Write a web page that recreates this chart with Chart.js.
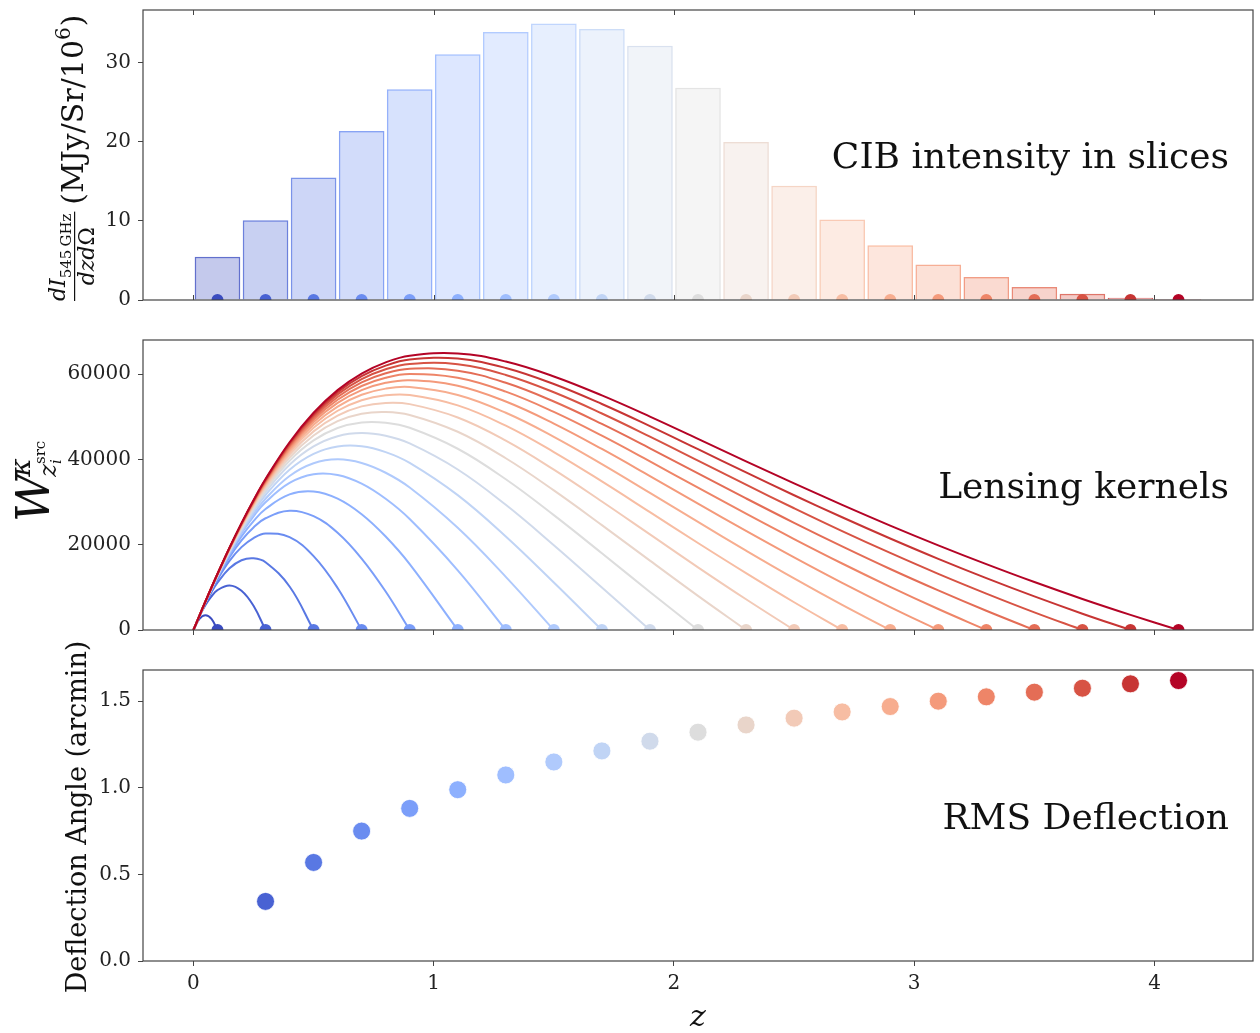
<!doctype html>
<html lang="en">
<head>
<meta charset="utf-8">
<title>CIB slices, lensing kernels and deflection</title>
<script src="https://cdn.jsdelivr.net/npm/chart.js"></script>
<style>
  body { margin: 0; background: #fff; }
  .panel { position: absolute; left: 0; width: 1260px; }
</style>
</head>
<body>
<div class="panel" style="top:0"><canvas id="cibChart" width="1260" height="330"></canvas></div>
<div class="panel" style="top:330px"><canvas id="kernelChart" width="1260" height="330"></canvas></div>
<div class="panel" style="top:620px"><canvas id="deflChart" width="1260" height="413"></canvas></div>

<script>
// redshift slices (centres) and the CIB intensity in each slice
var sliceZ = [0.1, 0.3, 0.5, 0.7, 0.9, 1.1, 1.3, 1.5, 1.7, 1.9, 2.1, 2.3, 2.5, 2.7, 2.9, 3.1, 3.3, 3.5, 3.7, 3.9, 4.1];
var cibIntensity = [5.46, 10.09, 15.51, 21.39, 26.68, 31.1, 33.92, 35.0, 34.3, 32.16, 26.86, 20.0, 14.45, 10.2, 6.93, 4.49, 2.9, 1.64, 0.79, 0.29, 0.13];

// lensing kernel for each source slice, sampled on kernelZ (ends at the source z)
var kernelZ = [0, 0.025, 0.05, 0.075, 0.1, 0.15, 0.2, 0.25, 0.3, 0.4, 0.5, 0.6, 0.7, 0.8, 0.9, 1.1, 1.3, 1.5, 1.7, 1.9, 2.1, 2.3, 2.5, 2.7, 2.9, 3.1, 3.3, 3.5, 3.7, 3.9, 4.1];
var kernels = [
  [0, 2600, 3480, 2600, 0],
  [0, 3220, 5860, 7900, 9350, 10450, 9200, 5680, 0],
  [0, 3310, 6260, 8860, 11090, 14460, 16360, 16820, 15890, 10200, 0],
  [0, 3350, 6460, 9300, 11870, 16200, 19430, 21560, 22630, 21760, 17310, 9860, 0],
  [0, 3360, 6530, 9490, 12240, 17070, 21010, 24050, 26200, 27970, 26690, 22790, 16750, 9020, 0],
  [0, 3370, 6570, 9600, 12440, 17590, 21960, 25550, 28370, 31790, 32470, 30790, 27140, 21910, 15440, 0],
  [0, 3380, 6610, 9700, 12620, 17990, 22680, 26660, 29950, 34500, 36530, 36350, 34320, 30770, 26020, 14000, 0],
  [0, 3350, 6580, 9680, 12630, 18110, 22970, 27200, 30790, 36110, 39100, 40010, 39170, 36870, 33410, 23970, 12470, 0],
  [0, 3360, 6600, 9730, 12730, 18330, 23370, 27810, 31660, 37590, 41310, 43040, 43100, 41720, 39190, 31620, 21920, 11130, 0],
  [0, 3360, 6620, 9780, 12810, 18510, 23680, 28280, 32330, 38750, 43050, 45450, 46180, 45530, 43750, 37640, 29360, 19890, 9970, 0],
  [0, 3370, 6640, 9810, 12870, 18650, 23920, 28670, 32880, 39690, 44460, 47360, 48670, 48600, 47410, 42500, 35340, 26930, 17990, 8930, 0],
  [0, 3370, 6650, 9840, 12920, 18770, 24130, 28990, 33330, 40460, 45610, 48960, 50720, 51130, 50430, 46480, 40270, 32740, 24600, 16260, 8000, 0],
  [0, 3370, 6660, 9870, 12970, 18860, 24300, 29250, 33710, 41110, 46580, 50280, 52430, 53250, 52960, 49830, 44400, 37600, 30130, 22420, 14700, 7210, 0],
  [0, 3380, 6670, 9890, 13010, 18950, 24450, 29480, 34030, 41660, 47410, 51410, 53890, 55050, 55100, 52670, 47910, 41730, 34850, 27640, 20400, 13340, 6510, 0],
  [0, 3380, 6680, 9910, 13040, 19020, 24570, 29670, 34300, 42140, 48120, 52390, 55150, 56600, 56960, 55120, 50940, 45310, 38900, 32150, 25330, 18620, 12110, 5900, 0],
  [0, 3380, 6690, 9920, 13070, 19080, 24680, 29840, 34550, 42550, 48740, 53240, 56240, 57960, 58580, 57270, 53580, 48410, 42450, 36090, 29610, 23230, 17020, 11050, 5380, 0],
  [0, 3380, 6690, 9930, 13090, 19130, 24780, 29990, 34760, 42910, 49280, 53980, 57210, 59140, 60000, 59150, 55890, 51140, 45560, 39530, 33380, 27260, 21320, 15590, 10120, 4920, 0],
  [0, 3380, 6700, 9950, 13110, 19180, 24870, 30120, 34940, 43240, 49760, 54650, 58060, 60210, 61270, 60810, 57960, 53570, 48310, 42600, 36730, 30860, 25130, 19610, 14310, 9290, 4510, 0],
  [0, 3380, 6700, 9960, 13130, 19230, 24940, 30240, 35110, 43520, 50200, 55240, 58830, 61140, 62390, 62310, 59800, 55740, 50770, 45340, 39710, 34070, 28550, 23190, 18070, 13170, 8540, 4140, 0],
  [0, 3380, 6710, 9970, 13150, 19270, 25010, 30350, 35270, 43790, 50580, 55770, 59520, 61990, 63400, 63640, 61450, 57680, 53000, 47810, 42400, 36960, 31600, 26430, 21450, 16680, 12160, 7870, 3820, 0],
  [0, 3390, 6710, 9980, 13160, 19300, 25070, 30440, 35400, 44020, 50930, 56250, 60130, 62760, 64310, 64860, 62940, 59450, 55000, 50040, 44820, 39560, 34380, 29340, 24480, 19850, 15440, 11240, 7280, 3550, 0]
];

// rms deflection for sources at z >= 0.3
var deflZ = [0.3, 0.5, 0.7, 0.9, 1.1, 1.3, 1.5, 1.7, 1.9, 2.1, 2.3, 2.5, 2.7, 2.9, 3.1, 3.3, 3.5, 3.7, 3.9, 4.1];
var rmsDeflection = [0.344, 0.569, 0.750, 0.881, 0.989, 1.074, 1.149, 1.213, 1.269, 1.321, 1.363, 1.402, 1.438, 1.469, 1.500, 1.525, 1.552, 1.575, 1.600, 1.619];

// tick labels
var zTicks = [0, 1, 2, 3, 4];
var cibTicks = [0, 10, 20, 30];
var kernelTicks = [0, 20000, 40000, 60000];
var deflTicks = [0, 0.5, 1.0, 1.5];

// coolwarm colour map
var coolwarmKnots = [[59,76,192],[68,90,204],[77,104,215],[87,117,225],[98,130,234],[108,142,241],[119,154,247],[130,165,251],[141,176,254],[152,185,255],[163,194,255],[174,201,253],[184,208,249],[194,213,244],[204,217,238],[213,219,230],[221,221,221],[229,216,209],[236,211,197],[241,204,185],[245,196,173],[247,187,160],[247,177,148],[247,166,135],[244,154,123],[241,141,111],[236,127,99],[229,112,88],[222,96,77],[213,80,66],[203,62,56],[192,40,47],[180,4,38]];

function coolwarm(t, a) {
  var p = t * 32;
  var i = Math.min(31, Math.floor(p));
  var f = p - i;
  var c0 = coolwarmKnots[i], c1 = coolwarmKnots[i + 1];
  var rgb = [0, 1, 2].map(function (k) { return Math.round(c0[k] + (c1[k] - c0[k]) * f); });
  return 'rgba(' + rgb.join(',') + ',' + (a == null ? 1 : a) + ')';
}

var nSlices = sliceZ.length;
var sliceColors = sliceZ.map(function (z, i) { return coolwarm(i / (nSlices - 1)); });
var barFill = sliceZ.map(function (z, i) { return coolwarm(i / (nSlices - 1), 0.3); });
var barEdge = sliceZ.map(function (z, i) { return coolwarm(i / (nSlices - 1), 0.8); });
var deflColors = deflZ.map(function (z) { return sliceColors[sliceZ.indexOf(z)]; });

var SERIF = '"DejaVu Serif", "Liberation Serif", serif';
var AXIS = '#444';
var TEXT = '#222';

function rotText(ctx, text, x, y, font) {
  ctx.save();
  ctx.translate(x, y);
  ctx.rotate(-Math.PI / 2);
  ctx.font = font;
  ctx.textAlign = 'left';
  ctx.textBaseline = 'alphabetic';
  ctx.fillText(text, 0, 0);
  var w = ctx.measureText(text).width;
  ctx.restore();
  return w;
}

function textWidth(ctx, text, font) {
  ctx.save();
  ctx.font = font;
  var w = ctx.measureText(text).width;
  ctx.restore();
  return w;
}

// box round the plot area plus the text inside it
function framePlugin(label, drawExtra) {
  return {
    id: 'frame',
    afterDraw: function (chart) {
      var ctx = chart.ctx, a = chart.chartArea;
      ctx.save();
      ctx.strokeStyle = AXIS;
      ctx.lineWidth = 1.2;
      ctx.strokeRect(a.left, a.top, a.right - a.left, a.bottom - a.top);
      ctx.fillStyle = '#111';
      ctx.font = '36px ' + SERIF;
      ctx.textAlign = 'right';
      ctx.textBaseline = 'alphabetic';
      ctx.fillText(label, a.right - 24, (a.top + a.bottom) / 2 + 13);
      if (drawExtra) drawExtra(chart, ctx, a);
      ctx.restore();
    }
  };
}

function xScale(height, opts) {
  return Object.assign({
    type: 'linear',
    min: -0.21,
    max: 4.41,
    afterBuildTicks: function (s) { s.ticks = zTicks.map(function (v) { return { value: v }; }); },
    afterFit: function (s) { s.height = height; s.paddingLeft = 0; s.paddingRight = 0; },
    grid: { drawOnChartArea: false, drawTicks: true, tickLength: 5, color: AXIS },
    border: { display: false },
    ticks: { display: false }
  }, opts);
}

function yScale(min, max, ticks, fmt) {
  return {
    min: min,
    max: max,
    afterBuildTicks: function (s) { s.ticks = ticks.map(function (v) { return { value: v }; }); },
    afterFit: function (s) { s.width = 143; s.paddingTop = 0; s.paddingBottom = 0; },
    grid: { drawOnChartArea: false, drawTicks: true, tickLength: 5, color: AXIS },
    border: { display: false },
    ticks: { color: TEXT, padding: 7, font: { family: SERIF, size: 20 }, callback: fmt }
  };
}

var baseOptions = {
  responsive: false,
  animation: false,
  events: [],
  plugins: { legend: { display: false }, tooltip: { enabled: false } }
};

function layoutPad(top, bottom) {
  return { autoPadding: false, padding: { left: 0, right: 7, top: top, bottom: bottom } };
}

function zeroDots() {
  return {
    type: 'line',
    showLine: false,
    data: sliceZ.map(function (z) { return { x: z, y: 0 }; }),
    pointRadius: 6,
    pointBorderWidth: 0,
    pointBackgroundColor: sliceColors,
    clip: 0,
    order: 0
  };
}

// CIB intensity in slices
new Chart(document.getElementById('cibChart'), {
  type: 'bar',
  data: {
    datasets: [{
      type: 'bar',
      data: sliceZ.map(function (z, i) { return { x: z, y: cibIntensity[i] }; }),
      backgroundColor: barFill,
      borderColor: barEdge,
      borderWidth: 1.5,
      barPercentage: 0.95,
      categoryPercentage: 1,
      order: 1
    }, zeroDots()]
  },
  options: Object.assign({}, baseOptions, {
    layout: layoutPad(10, 30),
    scales: {
      x: xScale(0, { display: false, offset: false }),
      y: yScale(0, 36.7, cibTicks, function (v) { return String(v); })
    }
  }),
  plugins: [framePlugin('CIB intensity in slices', function (chart, ctx, a) {
    // inward ticks on top and bottom edge
    ctx.strokeStyle = AXIS;
    ctx.lineWidth = 1;
    zTicks.forEach(function (z) {
      var x = Math.round(chart.scales.x.getPixelForValue(z)) + 0.5;
      ctx.beginPath();
      ctx.moveTo(x, a.top); ctx.lineTo(x, a.top + 5);
      ctx.moveTo(x, a.bottom); ctx.lineTo(x, a.bottom - 5);
      ctx.stroke();
    });
    // y label: dI_545GHz / dz dOmega (MJy/Sr/10^6)
    ctx.fillStyle = '#111';
    var y0 = 301;
    var fi = 'italic 22px ' + SERIF;
    var w1 = rotText(ctx, 'dI', 65, y0, fi);
    var w2 = rotText(ctx, '545\u2009GHz', 71, y0 - w1, '15px ' + SERIF);
    var numW = w1 + w2 + 2;
    ctx.fillRect(74, y0 - numW, 1.2, numW);
    var dW = textWidth(ctx, 'dzd', fi) + textWidth(ctx, '\u03A9', '22px ' + SERIF);
    var ys = y0 - (numW - dW) / 2;
    var w3 = rotText(ctx, 'dzd', 94, ys, fi);
    rotText(ctx, '\u03A9', 94, ys - w3, '22px ' + SERIF);
    var yu = y0 - numW - 7;
    var u1 = rotText(ctx, '(MJy/Sr/10', 83, yu, '30px ' + SERIF);
    var u2 = rotText(ctx, '6', 70, yu - u1, '20px ' + SERIF);
    rotText(ctx, ')', 83, yu - u1 - u2 - 1, '30px ' + SERIF);
  })]
});

// lensing kernels, one curve per source slice
var kernelSets = kernels.map(function (vals, i) {
  return {
    type: 'line',
    data: vals.map(function (w, j) { return { x: kernelZ[j], y: w }; }),
    borderColor: sliceColors[i],
    borderWidth: 2,
    pointRadius: 0,
    fill: false,
    tension: 0.4,
    order: nSlices - i + 1
  };
});
kernelSets.push(zeroDots());

new Chart(document.getElementById('kernelChart'), {
  type: 'line',
  data: { datasets: kernelSets },
  options: Object.assign({}, baseOptions, {
    layout: layoutPad(10, 0),
    scales: {
      x: xScale(30),
      y: yScale(0, 68000, kernelTicks, function (v) { return String(v); })
    }
  }),
  plugins: [framePlugin('Lensing kernels', function (chart, ctx) {
    // y label: W^kappa_{z_i^src}
    ctx.fillStyle = '#111';
    var yb = 522 - 330;
    var ww = rotText(ctx, 'W', 49, yb, 'italic 47px ' + SERIF);
    var ys = yb - ww + 3;
    rotText(ctx, '\u03BA', 30, ys, 'italic 28px ' + SERIF);
    var wz = rotText(ctx, 'z', 56, ys, 'italic 24px ' + SERIF);
    rotText(ctx, 'src', 45, ys - wz, '15px ' + SERIF);
    rotText(ctx, 'i', 61, ys - wz, 'italic 15px ' + SERIF);
  })]
});

// rms deflection angle
new Chart(document.getElementById('deflChart'), {
  type: 'scatter',
  data: {
    datasets: [{
      data: deflZ.map(function (z, i) { return { x: z, y: rmsDeflection[i] }; }),
      pointRadius: 9,
      pointBackgroundColor: deflColors,
      pointBorderColor: 'rgba(255,255,255,0.8)',
      pointBorderWidth: 1
    }]
  },
  options: Object.assign({}, baseOptions, {
    layout: layoutPad(50, 0),
    scales: {
      x: xScale(72, {
        ticks: { display: true, color: TEXT, padding: 6, font: { family: SERIF, size: 20 },
                 callback: function (v) { return String(v); } }
      }),
      y: yScale(0, 1.68, deflTicks, function (v) { return v.toFixed(1); })
    }
  }),
  plugins: [framePlugin('RMS Deflection', function (chart, ctx, a) {
    ctx.fillStyle = '#111';
    var font = '27px ' + SERIF;
    var w = textWidth(ctx, 'Deflection Angle (arcmin)', font);
    rotText(ctx, 'Deflection Angle (arcmin)', 86, 817 - 620 + w / 2, font);
    ctx.font = 'italic 30px ' + SERIF;
    ctx.textAlign = 'center';
    ctx.fillText('z', (a.left + a.right) / 2, 1026 - 620);
  })]
});
</script>
</body>
</html>
